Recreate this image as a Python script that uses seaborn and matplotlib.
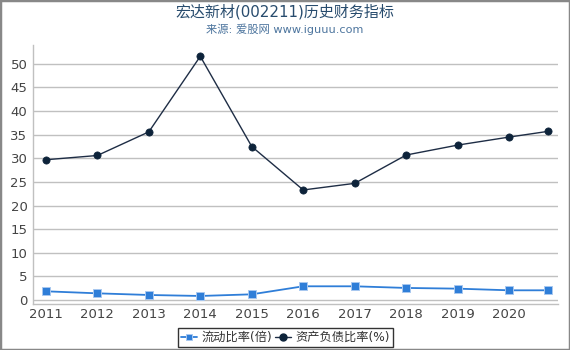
import matplotlib
matplotlib.use("Agg")
import matplotlib.pyplot as plt
import seaborn as sns
import pandas as pd
from matplotlib.lines import Line2D
from matplotlib.patches import Rectangle

# ---- data ----
x_pos = [2011, 2012, 2013, 2014, 2015, 2016, 2017, 2018, 2019, 2020, 2020.75]
current_ratio = [1.84, 1.41, 1.06, 0.85, 1.2, 2.9, 2.9, 2.55, 2.4, 2.05, 2.05]
debt_ratio = [29.7, 30.6, 35.6, 51.6, 32.5, 23.3, 24.7, 30.7, 32.8, 34.5, 35.7]
year_ticks = [2011, 2012, 2013, 2014, 2015, 2016, 2017, 2018, 2019, 2020]
series_names = ["流动比率(倍)", "资产负债比率(%)"]
title = "宏达新材(002211)历史财务指标"
subtitle = "来源: 爱股网 www.iguuu.com"

sns.set_theme(style="white")
plt.rcParams["font.family"] = ["DejaVu Sans", "Noto Sans CJK SC"]

c_cur = "#2f7ed8"
c_debt = "#0d233a"

fig = plt.figure(figsize=(5.7, 3.5), dpi=100)
ax = fig.add_axes([33 / 570, 1 - 304 / 350, (558 - 33) / 570, (304 - 45) / 350])

df_cur = pd.DataFrame({"x": x_pos, "y": current_ratio})
df_debt = pd.DataFrame({"x": x_pos, "y": debt_ratio})

sns.lineplot(data=df_cur, x="x", y="y", ax=ax, color=c_cur, linewidth=1.3,
             marker="s", markersize=5.2, markeredgecolor="#a8c8f0",
             markeredgewidth=0.7, zorder=3)
sns.lineplot(data=df_debt, x="x", y="y", ax=ax, color="#1e2d45", linewidth=1.0,
             marker="o", markersize=5.2, markerfacecolor=c_debt,
             markeredgecolor=c_debt, markeredgewidth=0.5, zorder=4)

ax.set_xlim(2010.75, 2020.95)
ax.set_ylim(-0.85, 54)
ax.set_yticks(range(0, 55, 5))
ax.set_xticks(year_ticks)
ax.set_xticklabels([str(y) for y in year_ticks])
ax.set_xlabel("")
ax.set_ylabel("")
ax.grid(axis="y", color="#c0c0c0", linewidth=1.0)
ax.grid(axis="x", visible=False)
ax.tick_params(axis="both", labelsize=9.5, colors="#444444", length=0, pad=3)
ax.tick_params(axis="y", pad=4)
for side in ["top", "right"]:
    ax.spines[side].set_visible(False)
ax.spines["left"].set_color("#c0c0c0")
ax.spines["left"].set_linewidth(1.0)
ax.spines["bottom"].set_color("#c0c0c0")
ax.spines["bottom"].set_linewidth(1.0)

fig.text(0.5, 1 - 12 / 350, title, ha="center", va="center",
         fontsize=10.8, color="#274b6d")
fig.text(0.5, 1 - 29 / 350, subtitle, ha="center", va="center",
         fontsize=8.1, color="#4d759e")

handles = [
    Line2D([], [], color=c_cur, marker="s", markersize=5, linewidth=1.3,
           markeredgecolor="#a8c8f0", markeredgewidth=0.7),
    Line2D([], [], color="#1e2d45", marker="o", markersize=5, linewidth=1.0,
           markerfacecolor=c_debt, markeredgecolor=c_debt),
]
leg = fig.legend(handles, series_names, loc="center", bbox_to_anchor=(285.5 / 570, 1 - 337.5 / 350),
                 ncol=2, frameon=True, fontsize=8.8, handlelength=1.3,
                 handletextpad=0.3, columnspacing=0.3, borderpad=0.25,
                 fancybox=False, borderaxespad=0)
leg.get_frame().set_edgecolor("black")
leg.get_frame().set_linewidth(1.0)
for t in leg.get_texts():
    t.set_color("#333333")

fig.patches.append(Rectangle((0.0, 0.0), 1.0, 1.0, transform=fig.transFigure,
                             fill=False, edgecolor="#888888", linewidth=2.5, zorder=10))

fig.savefig("out.png", dpi=100)
